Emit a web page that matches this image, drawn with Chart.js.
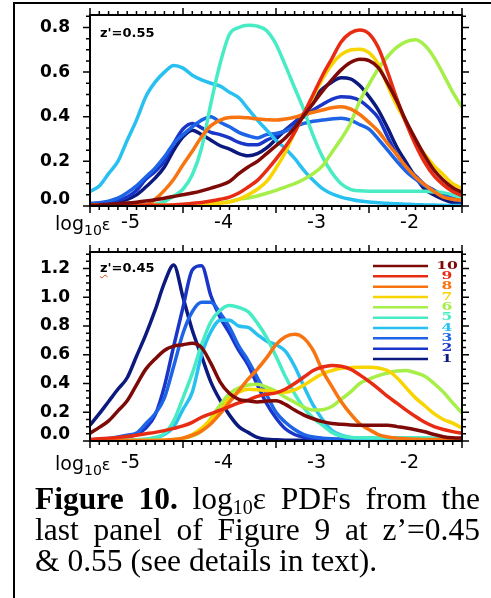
<!DOCTYPE html>
<html>
<head>
<meta charset="utf-8">
<script src="https://cdn.jsdelivr.net/npm/chart.js@4.4.1/dist/chart.umd.min.js"></script>
<style>
  body { margin: 0; background: #fff; width: 491px; height: 598px; overflow: hidden; position: relative; }
  #frame { position: absolute; left: 13px; top: 2px; width: 480px; height: 600px; border-left: 2px solid #000; border-top: 2px solid #000; }
  canvas { position: absolute; left: 0; }
  .zlab { position: absolute; left: 100px; font: bold 13px "DejaVu Sans"; line-height: 13px; color: #000; }
  .squig { text-decoration: underline wavy #e04020; text-decoration-thickness: 1px; text-underline-offset: 2px; }
  .xname { position: absolute; left: 55px; font: 19px "DejaVu Sans"; line-height: 19px; color: #000; }
  .xname sub { font-size: 14px; vertical-align: -5px; line-height: 0; }
  .xname span { font-size: 16px; }
  #caption { position: absolute; left: 35px; top: 483px; width: 445px; font: 31.5px "Liberation Serif"; line-height: 31px; color: #000; }
  #caption .j { text-align: justify; text-align-last: justify; }
  #caption sub { font-size: 20px; vertical-align: -5px; line-height: 0; }
</style>
</head>
<body>
<div id="frame"></div>
<canvas id="cTop" width="491" height="245" style="top:0"></canvas>
<canvas id="cBot" width="491" height="240" style="top:240px"></canvas>
<div class="zlab" style="top:26px">z'=0.55</div>
<div class="zlab" style="top:261px"><span class="squig">z</span>'=0.45</div>
<div class="xname" style="top:214px">log<sub>10</sub><span>ε</span></div>
<div class="xname" style="top:454px">log<sub>10</sub><span>ε</span></div>
<div id="caption">
  <div class="j"><b>Figure 10.</b> log<sub>10</sub>ε PDFs from the</div>
  <div class="j">last panel of Figure 9 at z’=0.45</div>
  <div>&amp; 0.55 (see details in text).</div>
</div>
<script>
// log10(epsilon) grid shared by all curves
const logEps = [-5.5,-5.4,-5.3,-5.2,-5.1,-5.0,-4.9,-4.8,-4.7,-4.6,-4.5,-4.4,-4.3,-4.2,-4.1,-4.0,-3.9,-3.8,-3.7,-3.6,
  -3.5,-3.4,-3.3,-3.2,-3.1,-3.0,-2.9,-2.8,-2.7,-2.6,-2.5,-2.4,-2.3,-2.2,-2.1,-2.0,-1.9,-1.8,-1.7,-1.6,-1.5];

// ---- z'=0.55 (upper panel) ----
const top1 = [0.01,0.01,0.015,0.02,0.03,0.05,0.085,0.125,0.175,0.25, 0.31,0.34,0.32,0.295,0.27,0.255,0.235,0.225,0.235,0.26,
  0.30,0.34,0.375,0.415,0.475,0.525,0.555,0.575,0.57,0.54, 0.49,0.43,0.35,0.263,0.195,0.13,0.075,0.05,0.03,0.015,0.008];
const top2 = [0.01,0.012,0.018,0.025,0.04,0.07,0.12,0.155,0.2,0.28, 0.345,0.37,0.35,0.33,0.32,0.305,0.285,0.275,0.275,0.295,
  0.315,0.34,0.375,0.40,0.43,0.455,0.478,0.49,0.487,0.473, 0.44,0.395,0.31,0.23,0.175,0.135,0.095,0.07,0.045,0.03,0.02];
const top3 = [0.012,0.015,0.022,0.035,0.06,0.09,0.13,0.17,0.22,0.28, 0.32,0.355,0.385,0.40,0.375,0.355,0.33,0.315,0.305,0.32,
  0.325,0.335,0.355,0.37,0.38,0.385,0.39,0.393,0.385,0.365, 0.345,0.3,0.25,0.2,0.155,0.12,0.09,0.07,0.05,0.035,0.025];
const top4 = [0.065,0.09,0.145,0.2,0.295,0.385,0.49,0.555,0.6,0.63, 0.618,0.586,0.565,0.55,0.537,0.51,0.485,0.435,0.385,0.34,
  0.294,0.258,0.213,0.16,0.115,0.078,0.055,0.04,0.03,0.022, 0.018,0.015,0.012,0.01,0.008,0.006,0.005,0.004,0.003,0.002,0.002];
const top5 = [0.003,0.003,0.003,0.003,0.003,0.003,0.003,0.008,0.02,0.045, 0.075,0.14,0.26,0.46,0.64,0.77,0.8,0.81,0.806,0.785,
  0.725,0.63,0.53,0.43,0.315,0.22,0.15,0.1,0.075,0.068, 0.066,0.066,0.066,0.066,0.066,0.066,0.066,0.063,0.06,0.05,0.035];
const top6 = [0.003,0.003,0.003,0.003,0.003,0.003,0.003,0.003,0.003,0.003, 0.003,0.003,0.005,0.008,0.013,0.02,0.03,0.036,0.045,0.057,
  0.07,0.085,0.1,0.12,0.145,0.18,0.24,0.3,0.37,0.47, 0.545,0.615,0.67,0.712,0.737,0.745,0.72,0.665,0.59,0.51,0.443];
const top7 = [0.003,0.003,0.003,0.003,0.003,0.003,0.003,0.003,0.003,0.003, 0.003,0.003,0.006,0.009,0.013,0.018,0.03,0.05,0.075,0.11,
  0.17,0.24,0.33,0.41,0.49,0.57,0.635,0.678,0.699,0.703, 0.687,0.635,0.54,0.45,0.375,0.29,0.23,0.18,0.14,0.1,0.08];
const top8 = [0.003,0.003,0.003,0.003,0.003,0.003,0.003,0.03,0.07,0.12, 0.185,0.245,0.31,0.36,0.385,0.397,0.398,0.395,0.39,0.387,
  0.385,0.39,0.398,0.41,0.42,0.43,0.44,0.445,0.435,0.41, 0.375,0.335,0.28,0.23,0.175,0.13,0.095,0.065,0.04,0.03,0.025];
const top9 = [0.003,0.003,0.003,0.003,0.003,0.003,0.003,0.003,0.003,0.005, 0.008,0.012,0.016,0.022,0.03,0.04,0.058,0.085,0.115,0.16,
  0.21,0.265,0.33,0.415,0.5,0.585,0.66,0.735,0.775,0.789, 0.772,0.71,0.6,0.48,0.37,0.275,0.195,0.135,0.095,0.065,0.047];
const top10 = [0.003,0.005,0.008,0.01,0.013,0.017,0.022,0.028,0.035,0.043, 0.05,0.058,0.068,0.08,0.092,0.11,0.145,0.175,0.2,0.235,
  0.27,0.305,0.35,0.405,0.46,0.515,0.565,0.61,0.643,0.658, 0.652,0.62,0.55,0.47,0.38,0.3,0.225,0.16,0.115,0.082,0.061];

// ---- z'=0.45 (lower panel) ----
const bot1 = [0.11,0.19,0.275,0.36,0.44,0.59,0.74,0.91,1.1,1.225, 1.0,0.77,0.59,0.41,0.283,0.18,0.1,0.06,0.025,0.012,
  0.008,0.006,0.006,0.006,0.006,0.006,0.006,0.006,0.006,0.006, 0.006,0.006,0.006,0.006,0.006,0.006,0.006,0.006,0.006,0.006,0.006];
const bot2 = [0.005,0.008,0.012,0.018,0.028,0.045,0.09,0.18,0.38,0.66, 0.93,1.19,1.22,1.01,0.86,0.75,0.63,0.53,0.39,0.26,
  0.16,0.085,0.045,0.025,0.015,0.012,0.01,0.01,0.01,0.01, 0.01,0.01,0.01,0.01,0.01,0.01,0.01,0.01,0.01,0.01,0.01];
const bot3 = [0.008,0.012,0.018,0.028,0.04,0.055,0.12,0.19,0.3,0.52, 0.75,0.9,0.965,0.965,0.89,0.79,0.66,0.56,0.44,0.32,
  0.2,0.13,0.08,0.045,0.028,0.02,0.016,0.014,0.014,0.014, 0.014,0.014,0.014,0.014,0.014,0.014,0.014,0.014,0.014,0.014,0.014];
const bot4 = [0.005,0.005,0.005,0.005,0.005,0.008,0.012,0.02,0.045,0.1, 0.22,0.34,0.6,0.76,0.84,0.84,0.8,0.79,0.74,0.695,
  0.67,0.625,0.52,0.38,0.25,0.15,0.075,0.04,0.025,0.02, 0.018,0.018,0.018,0.018,0.018,0.018,0.018,0.016,0.014,0.012,0.01];
const bot5 = [0.005,0.005,0.005,0.005,0.005,0.008,0.013,0.025,0.05,0.14, 0.3,0.47,0.67,0.83,0.91,0.943,0.93,0.9,0.82,0.72,
  0.59,0.45,0.33,0.23,0.16,0.11,0.06,0.035,0.025,0.022, 0.022,0.022,0.022,0.022,0.022,0.022,0.022,0.02,0.018,0.015,0.012];
const bot6 = [0.003,0.003,0.003,0.003,0.003,0.003,0.003,0.003,0.003,0.008, 0.018,0.035,0.07,0.16,0.25,0.33,0.37,0.39,0.395,0.374,
  0.345,0.305,0.27,0.235,0.215,0.218,0.24,0.29,0.34,0.4, 0.43,0.455,0.473,0.487,0.49,0.475,0.45,0.4,0.34,0.265,0.195];
const bot7 = [0.004,0.004,0.004,0.004,0.004,0.004,0.004,0.004,0.006,0.01, 0.02,0.045,0.09,0.15,0.21,0.3,0.34,0.36,0.357,0.35,
  0.342,0.34,0.355,0.39,0.43,0.468,0.49,0.506,0.51,0.513, 0.513,0.508,0.49,0.44,0.37,0.3,0.245,0.19,0.15,0.124,0.09];
const bot8 = [0.003,0.003,0.003,0.003,0.003,0.003,0.003,0.003,0.006,0.01, 0.02,0.04,0.07,0.12,0.19,0.27,0.35,0.43,0.5,0.58,
  0.67,0.725,0.742,0.715,0.63,0.49,0.38,0.275,0.19,0.12, 0.08,0.045,0.028,0.02,0.015,0.012,0.01,0.01,0.01,0.01,0.01];
const bot9 = [0.01,0.015,0.02,0.025,0.032,0.04,0.05,0.06,0.072,0.088, 0.105,0.13,0.165,0.19,0.214,0.24,0.265,0.285,0.31,0.325,
  0.335,0.36,0.4,0.445,0.49,0.515,0.526,0.52,0.5,0.46, 0.415,0.365,0.31,0.263,0.215,0.17,0.13,0.1,0.08,0.065,0.054];
const bot10 = [0.054,0.095,0.14,0.21,0.28,0.39,0.5,0.57,0.63,0.66, 0.67,0.68,0.65,0.54,0.41,0.33,0.29,0.28,0.272,0.278,
  0.28,0.255,0.215,0.18,0.155,0.135,0.122,0.116,0.112,0.11, 0.11,0.11,0.11,0.1,0.09,0.078,0.064,0.045,0.03,0.022,0.02];

// legend order: 10 at the top, 1 at the bottom
const curveLabels = ['10','9','8','7','6','5','4','3','2','1'];
const topSeries = [top10, top9, top8, top7, top6, top5, top4, top3, top2, top1];
const botSeries = [bot10, bot9, bot8, bot7, bot6, bot5, bot4, bot3, bot2, bot1];

const xTickValues = [-5, -4, -3, -2];
const xMajorTicks = [-5.5, -4.5, -3.5, -2.5, -1.5];
const yTicksTop = [0, 0.2, 0.4, 0.6, 0.8];
const yTicksBot = [0, 0.2, 0.4, 0.6, 0.8, 1.0, 1.2];

const curveColors = ['#7e0a08','#e82c14','#f87410','#f8d400','#a6ee48','#48ecc4','#28c0f0','#1e64e6','#1a36c8','#0c1a80'];

// box + outward IDL style tick marks on all four sides
const frameTicks = {
  id: 'frameTicks',
  afterDraw(chart, args, opts) {
    const { ctx, chartArea: a, scales: { x, y } } = chart;
    ctx.save();
    ctx.strokeStyle = '#000';
    ctx.lineWidth = 1.5;
    ctx.beginPath();
    for (let k = 0; k <= 40; k++) {
      const v = -5.5 + k * 0.1;
      const len = xMajorTicks.some(m => Math.abs(m - v) < 1e-6) ? 7 : 4;
      const px = x.getPixelForValue(v);
      ctx.moveTo(px, a.bottom); ctx.lineTo(px, a.bottom + len);
      ctx.moveTo(px, a.top); ctx.lineTo(px, a.top - len);
    }
    for (let k = 0; k * 0.05 <= y.max + 1e-6; k++) {
      const v = k * 0.05;
      const len = opts.yTicks.some(m => Math.abs(m - v) < 1e-6) ? 7 : 4;
      const py = y.getPixelForValue(v);
      ctx.moveTo(a.left, py); ctx.lineTo(a.left - len, py);
      ctx.moveTo(a.right, py); ctx.lineTo(a.right + len, py);
    }
    ctx.stroke();
    ctx.lineWidth = 2;
    ctx.strokeRect(a.left, a.top, a.right - a.left, a.bottom - a.top);

    if (opts.legend) {
      const L = opts.legend;
      chart.data.datasets.forEach((ds, i) => {
        const ly = L.y0 + i * L.dy;
        ctx.strokeStyle = ds.borderColor;
        ctx.lineWidth = 2.5;
        ctx.beginPath();
        ctx.moveTo(L.x0, ly); ctx.lineTo(L.x1, ly);
        ctx.stroke();
        ctx.save();
        ctx.translate(L.tx, ly);
        ctx.scale(1.3, 0.85);
        ctx.fillStyle = ds.borderColor;
        ctx.font = 'bold 12px "DejaVu Serif"';
        ctx.textAlign = 'center';
        ctx.textBaseline = 'middle';
        ctx.fillText(ds.label, 0, 0);
        ctx.restore();
      });
    }
    ctx.restore();
  }
};

function makePanel(id, series, yMax, yTicks, zeroLift, padTop, labelPad, legend) {
  return new Chart(document.getElementById(id), {
    type: 'line',
    data: {
      datasets: series.map((arr, i) => ({
        label: curveLabels[i],
        data: logEps.map((v, j) => ({ x: v, y: arr[j] })),
        borderColor: curveColors[i],
        borderWidth: 3.5,
        pointRadius: 0,
        cubicInterpolationMode: 'monotone',
        fill: false
      }))
    },
    options: {
      responsive: false,
      animation: false,
      devicePixelRatio: 1,
      layout: { padding: { left: 40, right: 29, top: padTop, bottom: 0 } },
      plugins: {
        legend: { display: false },
        tooltip: { enabled: false },
        frameTicks: { yTicks, legend }
      },
      scales: {
        x: {
          type: 'linear', min: -5.5, max: -1.5,
          grid: { display: false, drawTicks: false },
          border: { display: false },
          afterBuildTicks: s => { s.ticks = xTickValues.map(v => ({ value: v })); },
          afterFit: s => { s.height = 39; },
          ticks: {
            padding: labelPad, labelOffset: -6, color: '#000',
            font: { family: 'DejaVu Sans', size: 19 },
            callback: v => String(v)
          }
        },
        y: {
          min: 0, max: yMax,
          grid: { display: false, drawTicks: false },
          border: { display: false },
          // the 0.0 label sits a little above the bottom axis, as in the figure
          afterBuildTicks: s => { s.ticks = yTicks.map((v, i) => ({ value: i === 0 ? v + zeroLift : v })); },
          afterFit: s => { s.width = 50; },
          ticks: {
            padding: 0, crossAlign: 'far', color: '#000',
            font: { family: 'DejaVu Sans', size: 17, weight: 'bold' },
            callback: (v, i) => yTicks[i].toFixed(1)
          }
        }
      }
    },
    plugins: [frameTicks]
  });
}

makePanel('cTop', topSeries, 0.856, yTicksTop, 0.031, 15, 6, null);
makePanel('cBot', botSeries, 1.315, yTicksBot, 0.042, 12, 11,
  { x0: 373, x1: 428, tx: 447, y0: 26, dy: 10.33 });
</script>
</body>
</html>
